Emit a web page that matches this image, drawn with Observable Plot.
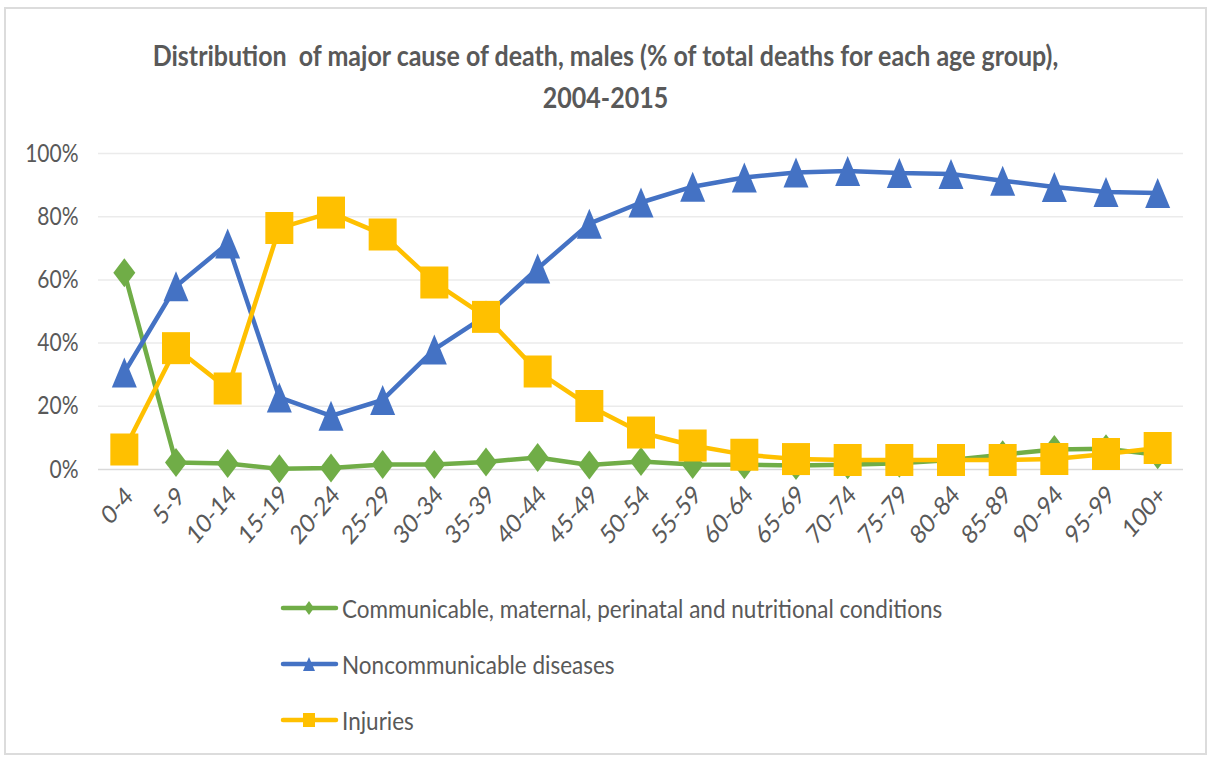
<!DOCTYPE html>
<html><head><meta charset="utf-8">
<script src="https://cdn.jsdelivr.net/npm/d3@7"></script>
<script src="https://cdn.jsdelivr.net/npm/@observablehq/plot@0.6"></script>
<style>
body{margin:0;background:#fff;}
#frame{position:relative;width:1211px;height:758px;overflow:hidden;font-family:Lato,sans-serif;color:#595959;}
#border{position:absolute;left:4px;top:7px;width:1203px;height:748px;border:2px solid #dcdcdc;box-sizing:border-box;}
#title{position:absolute;left:0;top:34px;width:1211px;text-align:center;font-weight:bold;font-size:25px;line-height:42px;white-space:pre;}
#title div{transform:scale(1,1.12);}
#chart{position:absolute;left:0;top:120px;}
#legend{position:absolute;left:280px;top:580px;}
.row{display:flex;align-items:center;height:56px;font-size:22.5px;}
.row span{display:inline-block;transform:scale(1,1.12);transform-origin:left center;}
.row svg{margin-right:2px;}
</style></head><body>
<div id="frame"><div id="border"></div><div id="title"></div><div id="chart"></div><div id="legend"></div></div>
<script>
const titleLines = ["Distribution  of major cause of death, males (% of total deaths for each age group),", "2004-2015"];
const ageGroups = ["0-4","5-9","10-14","15-19","20-24","25-29","30-34","35-39","40-44","45-49","50-54","55-59","60-64","65-69","70-74","75-79","80-84","85-89","90-94","95-99","100+"];
const communicable = [62.3, 2.2, 1.9, 0.2, 0.5, 1.6, 1.6, 2.4, 3.8, 1.4, 2.5, 1.6, 1.5, 1.3, 1.5, 2, 3, 4.7, 6.3, 6.6, 4.7];
const noncommunicable = [30.7, 58, 71.5, 22.8, 17, 22, 38, 48.7, 63.6, 77.8, 84.5, 89.5, 92.4, 94, 94.5, 93.8, 93.5, 91.4, 89.4, 87.8, 87.5];
const injuries = [6.3, 38.4, 25.6, 76.4, 81.3, 74.4, 59.2, 48.3, 31, 20.1, 11.7, 7.6, 4.7, 3.3, 3, 3, 3, 3, 3.3, 4.9, 6.8];
const seriesNames = ["Communicable, maternal, perinatal and nutritional conditions", "Noncommunicable diseases", "Injuries"];
const seriesColors = ["#70AD47", "#4472C4", "#FFC000"];
const yTicks = [0, 20, 40, 60, 80, 100];

const diamondSym = {draw(c){c.moveTo(0,-14.5);c.lineTo(11,0);c.lineTo(0,14.5);c.lineTo(-11,0);c.closePath();}};
const triangleSym = {draw(c){c.moveTo(0,-15);c.lineTo(12.5,15);c.lineTo(-12.5,15);c.closePath();}};
const squareSym = {draw(c){c.rect(-14,-16,28,32);}};
const legendDiamond = {draw(c){c.moveTo(0,-7);c.lineTo(5,0);c.lineTo(0,7);c.lineTo(-5,0);c.closePath();}};
const legendTriangle = {draw(c){c.moveTo(0,-7);c.lineTo(6,7);c.lineTo(-6,7);c.closePath();}};
const legendSquare = {draw(c){c.rect(-6,-7,12,14);}};
const symbols = [diamondSym, triangleSym, squareSym];
const legendSymbols = [legendDiamond, legendTriangle, legendSquare];
const seriesValues = [communicable, noncommunicable, injuries];

document.getElementById("title").innerHTML = titleLines.map(t => `<div>${t}</div>`).join("");

const rows = seriesNames.flatMap((name, k) => ageGroups.map((a, i) => ({age: a, value: seriesValues[k][i], name, k})));

const marks = [
  Plot.ruleY(yTicks.filter(t => t > 0), {stroke: "#ebebeb", strokeWidth: 1.5}),
  Plot.ruleY([0], {stroke: "#d9d9d9", strokeWidth: 1.5}),
  Plot.axisY({ticks: yTicks, tickFormat: d => d + "%", tickSize: 0, tickPadding: 20, fontSize: 21, label: null}),
  Plot.axisX({tickRotate: -45, tickSize: 0, tickPadding: 30, fontSize: 22, dx: 5, label: null})
];
seriesNames.forEach((name, k) => {
  const d = rows.filter(r => r.k === k);
  marks.push(Plot.line(d, {x: "age", y: "value", stroke: seriesColors[k], strokeWidth: 4.5}));
  marks.push(Plot.dot(d, {x: "age", y: "value", symbol: symbols[k], fill: seriesColors[k], r: 10}));
});

const chart = Plot.plot({
  width: 1211, height: 440,
  marginTop: 33, marginBottom: 91, marginLeft: 98, marginRight: 28,
  style: {fontFamily: "Lato, sans-serif", color: "#595959", background: "transparent"},
  x: {type: "point", domain: ageGroups, padding: 0.5, round: false},
  y: {domain: [0, 100]},
  marks
});
document.getElementById("chart").appendChild(chart);

// stretch tick labels vertically about their own centres, as in the reference
function stretch(sel, sy) {
  const svgR = chart.getBoundingClientRect();
  d3.select(chart).selectAll(sel).each(function() {
    const r = this.getBoundingClientRect();
    const cy = r.top + r.height / 2 - svgR.top;
    const g = document.createElementNS("http://www.w3.org/2000/svg", "g");
    g.setAttribute("transform", `translate(0,${cy}) scale(1,${sy}) translate(0,${-cy})`);
    this.parentNode.insertBefore(g, this);
    g.appendChild(this);
  });
}
stretch("g[aria-label='y-axis tick label'] text", 1.18);
stretch("g[aria-label='x-axis tick label'] text", 1.18);

const legend = document.getElementById("legend");
seriesNames.forEach((name, k) => {
  const row = document.createElement("div");
  row.className = "row";
  const svg = d3.create("svg").attr("width", 60).attr("height", 20);
  svg.append("line").attr("x1", 3).attr("x2", 56).attr("y1", 10).attr("y2", 10).attr("stroke", seriesColors[k]).attr("stroke-width", 4.5).attr("stroke-linecap", "round");
  svg.append("path").attr("transform", "translate(29,10)").attr("d", d3.symbol(legendSymbols[k])()).attr("fill", seriesColors[k]);
  row.appendChild(svg.node());
  const span = document.createElement("span");
  span.textContent = name;
  row.appendChild(span);
  legend.appendChild(row);
});
</script>
</body></html>
